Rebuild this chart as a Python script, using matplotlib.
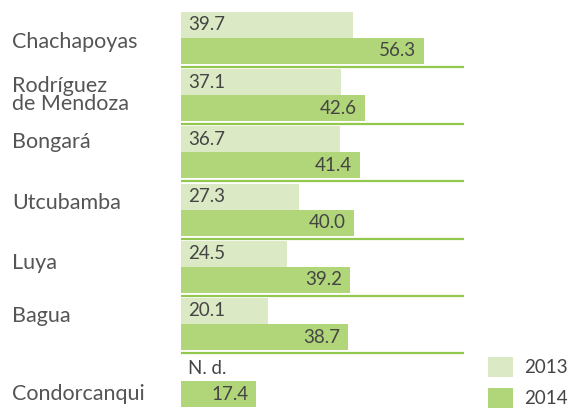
import matplotlib
matplotlib.use("Agg")
import matplotlib.pyplot as plt
import matplotlib.transforms as mtransforms
import numpy as np

# ---- data ----
categories = ["Chachapoyas", "Rodríguez\nde Mendoza", "Bongará", "Utcubamba",
              "Luya", "Bagua", "Condorcanqui"]
values_2013 = [39.7, 37.1, 36.7, 27.3, 24.5, 20.1, None]
values_2014 = [56.3, 42.6, 41.4, 40.0, 39.2, 38.7, 17.4]
series_labels = ["2013", "2014"]
missing_text = "N. d."

# ---- layout (pixels) ----
W, H = 568, 409
x0_px = 181          # bar origin
px_per_unit = 4.32
pitch = 57.2         # group pitch in px
first_center = 38.0  # first group center in px
bar_h = 26.0
sep_end_px = 464
label_baseline_off = [10, 14.8, -4.4, -0.6, 2.2, -2, 18.8]  # px, relative to group center

C13 = "#dbeac5"
C14 = "#b1d579"
CLINE = "#93c84f"
TXT = "#454545"
LBL = "#555555"

plt.rcParams['font.family'] = ['Lato', 'DejaVu Sans']

fig = plt.figure(figsize=(W / 100, H / 100), dpi=100)
ax = fig.add_axes([x0_px / W, 0, 1 - x0_px / W, 1])
ax.set_xlim(0, (W - x0_px) / px_per_unit)
top_g = (0 - first_center) / pitch
bot_g = (H - first_center) / pitch
ax.set_ylim(bot_g, top_g)
ax.axis("off")

n = len(categories)
g = np.arange(n)
hb = bar_h / pitch
y13 = g - hb / 2
y14 = g + hb / 2

v13 = [v if v is not None else 0 for v in values_2013]
b13 = ax.barh(y13, v13, height=hb, color=C13, label=series_labels[0])
b14 = ax.barh(y14, values_2014, height=hb, color=C14, label=series_labels[1])

pad = 7 / px_per_unit
fs_num = 13.5
for i in range(n):
    if values_2013[i] is None:
        ax.text(pad, y13[i], missing_text, ha="left", va="center",
                fontsize=fs_num, color=TXT)
    else:
        ax.text(pad, y13[i], f"{values_2013[i]:.1f}", ha="left", va="center",
                fontsize=fs_num, color=TXT)
    ax.text(values_2014[i] - 8 / px_per_unit, y14[i], f"{values_2014[i]:.1f}",
            ha="right", va="center", fontsize=fs_num, color=TXT)

# separators
sep_len = (sep_end_px - x0_px) / px_per_unit
for i in range(n - 1):
    ys = i + (29 / pitch)
    ax.plot([0, sep_len], [ys, ys], color=CLINE, lw=1.6, solid_capstyle="butt")

# category labels
trans = mtransforms.blended_transform_factory(fig.transFigure, ax.transData)
for i, cat in enumerate(categories):
    ax.text(12 / W, i + label_baseline_off[i] / pitch, cat, transform=trans,
            ha="left", va="baseline", fontsize=15.5, color=LBL,
            linespacing=0.85)

leg = fig.legend(handles=[b13, b14], labels=series_labels, loc="lower left",
                 bbox_to_anchor=(488 / W, 1 / H), frameon=False,
                 fontsize=13.5, handlelength=1.35, handleheight=1.3,
                 labelspacing=0.55, handletextpad=0.6, borderpad=0,
                 borderaxespad=0)
for t in leg.get_texts():
    t.set_color(TXT)

fig.savefig("out.png", dpi=100)
